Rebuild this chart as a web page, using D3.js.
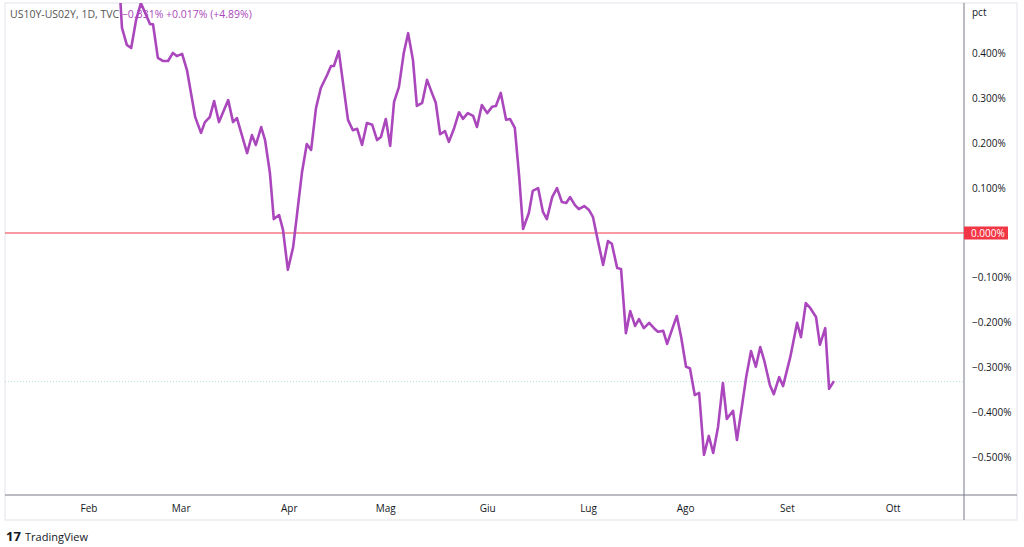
<!DOCTYPE html>
<html><head><meta charset="utf-8">
<script src="https://cdn.jsdelivr.net/npm/d3@7"></script>
<style>body{margin:0;background:#fff;font-family:"Open Sans","DejaVu Sans",sans-serif}</style>
</head><body><svg id="c" width="1024" height="547"></svg>
<script>
const barIndex=[6.4,6.8,7.8,8.7,9.7,10.7,11.5,12.6,13.2,14.2,15.3,16.3,17.3,18.1,19.2,20.2,21.9,23.1,23.9,24.9,25.8,26.8,28.7,29.7,30.5,32.6,33.6,34.4,35.5,36.3,37.3,38.1,39.2,40.0,41.0,42.1,43.9,44.9,45.8,46.8,47.8,49.1,49.9,50.5,51.5,53.4,54.4,55.3,56.3,57.3,58.4,59.4,60.2,61.2,62.1,62.9,63.9,64.9,65.8,66.8,67.6,68.7,69.7,70.7,71.5,72.4,73.4,74.2,75.3,76.3,77.1,78.1,79.2,80.0,81.0,82.1,83.1,83.9,84.9,86.0,86.8,87.8,88.7,89.5,90.7,91.5,92.6,93.6,94.4,95.5,96.5,97.5,98.4,99.2,100.2,101.0,102.1,103.1,103.9,104.9,106.0,107.0,107.8,108.9,109.7,110.7,111.6,112.6,113.4,114.4,115.5,116.5,117.3,118.4,119.2,120.4,121.2,122.1,123.1,123.9,124.9,125.8,126.8,127.8,128.7,129.7,130.7,131.5,132.8,133.6,134.6,135.5,136.5,137.5,138.4,139.2,140.4,141.2,142.3,143.1,144.6,146.0,146.8,147.8,148.7,149.9,150.7,151.8,152.6,153.6];
const spread=[0.53,0.457,0.419,0.412,0.474,0.512,0.492,0.465,0.465,0.390,0.383,0.383,0.401,0.394,0.399,0.363,0.258,0.223,0.247,0.258,0.294,0.247,0.296,0.247,0.256,0.178,0.218,0.196,0.236,0.207,0.134,0.031,0.040,0.007,-0.082,-0.031,0.134,0.198,0.185,0.278,0.323,0.352,0.372,0.372,0.405,0.252,0.229,0.232,0.196,0.245,0.241,0.207,0.214,0.254,0.194,0.292,0.325,0.401,0.445,0.385,0.283,0.290,0.341,0.312,0.290,0.220,0.227,0.203,0.234,0.269,0.254,0.267,0.261,0.236,0.285,0.267,0.281,0.283,0.312,0.252,0.254,0.234,0.125,0.009,0.045,0.094,0.100,0.047,0.031,0.080,0.100,0.069,0.067,0.080,0.062,0.053,0.060,0.051,0.036,-0.016,-0.071,-0.018,-0.024,-0.078,-0.080,-0.223,-0.174,-0.207,-0.192,-0.212,-0.200,-0.212,-0.220,-0.218,-0.247,-0.209,-0.185,-0.232,-0.298,-0.301,-0.361,-0.356,-0.494,-0.452,-0.490,-0.432,-0.334,-0.414,-0.396,-0.461,-0.388,-0.321,-0.263,-0.298,-0.254,-0.283,-0.339,-0.359,-0.321,-0.341,-0.276,-0.200,-0.232,-0.156,-0.167,-0.187,-0.249,-0.212,-0.347,-0.330];
const monthLabels=["Feb","Mar","Apr","Mag","Giu","Lug","Ago","Set","Ott"];
const monthIndex=[0,19,41.3,61.2,82.2,103,123,144,165.8];
const yTicks=[0.4,0.3,0.2,0.1,-0.1,-0.2,-0.3,-0.4,-0.5];
const lastValue=-0.331;

const svg=d3.select("#c");
const L=5,T=3,R=964,B=495;
const x=d3.scaleLinear().domain([0,1]).range([89,93.85]);
const y=d3.scaleLinear().domain([0,0.4]).range([233,53.4]);
svg.append("rect").attr("x",L).attr("y",T).attr("width",1017-L).attr("height",520-T).attr("fill","none").attr("stroke","#e0e3eb");
svg.append("line").attr("x1",R).attr("x2",R).attr("y1",T).attr("y2",520).attr("stroke","#787b86");
svg.append("line").attr("x1",L).attr("x2",1017).attr("y1",B).attr("y2",B).attr("stroke","#787b86");
svg.append("defs").append("clipPath").attr("id","cp").append("rect").attr("x",L).attr("y",T).attr("width",R-L).attr("height",B-T);
svg.append("line").attr("x1",L).attr("x2",R).attr("y1",y(lastValue)).attr("y2",y(lastValue)).attr("stroke","#b2dfdb").attr("stroke-dasharray","1,2").attr("stroke-width",1);
svg.append("line").attr("x1",L).attr("x2",R).attr("y1",y(0)).attr("y2",y(0)).attr("stroke","#f23645").attr("stroke-width",1.2);
const line=d3.line().x((d,i)=>x(barIndex[i])).y(d=>y(d));
svg.append("path").datum(spread).attr("clip-path","url(#cp)").attr("d",line).attr("fill","none").attr("stroke","#ab47bc").attr("stroke-width",2.6).attr("stroke-linejoin","round");
const g=svg.append("g").attr("font-size",10).attr("fill","#131722");
g.selectAll(".yt").data(yTicks).join("text").attr("x",972).attr("y",d=>y(d)+3.5).text(d=>d3.format(".3f")(d).replace("-","−")+"%");
g.append("text").attr("x",972).attr("y",16).text("pct");
svg.append("rect").attr("x",964).attr("y",y(0)-6.5).attr("width",44).attr("height",13).attr("fill","#f23645");
svg.append("text").attr("x",971).attr("y",y(0)+3.5).attr("font-size",10).attr("fill","#fff").text("0.000%");
g.selectAll(".xt").data(monthLabels).join("text").attr("x",(d,i)=>x(monthIndex[i])).attr("y",512).attr("text-anchor","middle").text(d=>d);
const lg=svg.append("text").attr("x",10).attr("y",18).attr("font-size",10.5);
lg.append("tspan").attr("fill","#555").text("US10Y-US02Y, 1D, TVC  ");
lg.append("tspan").attr("fill","#ab47bc").text("−0.331%  +0.017% (+4.89%)");
svg.append("text").attr("x",6).attr("y",541).attr("font-size",13).attr("font-weight","bold").attr("fill","#131722").text("17");
svg.append("text").attr("x",25).attr("y",541).attr("font-size",11).attr("fill","#131722").text("TradingView");
</script>
</body></html>
